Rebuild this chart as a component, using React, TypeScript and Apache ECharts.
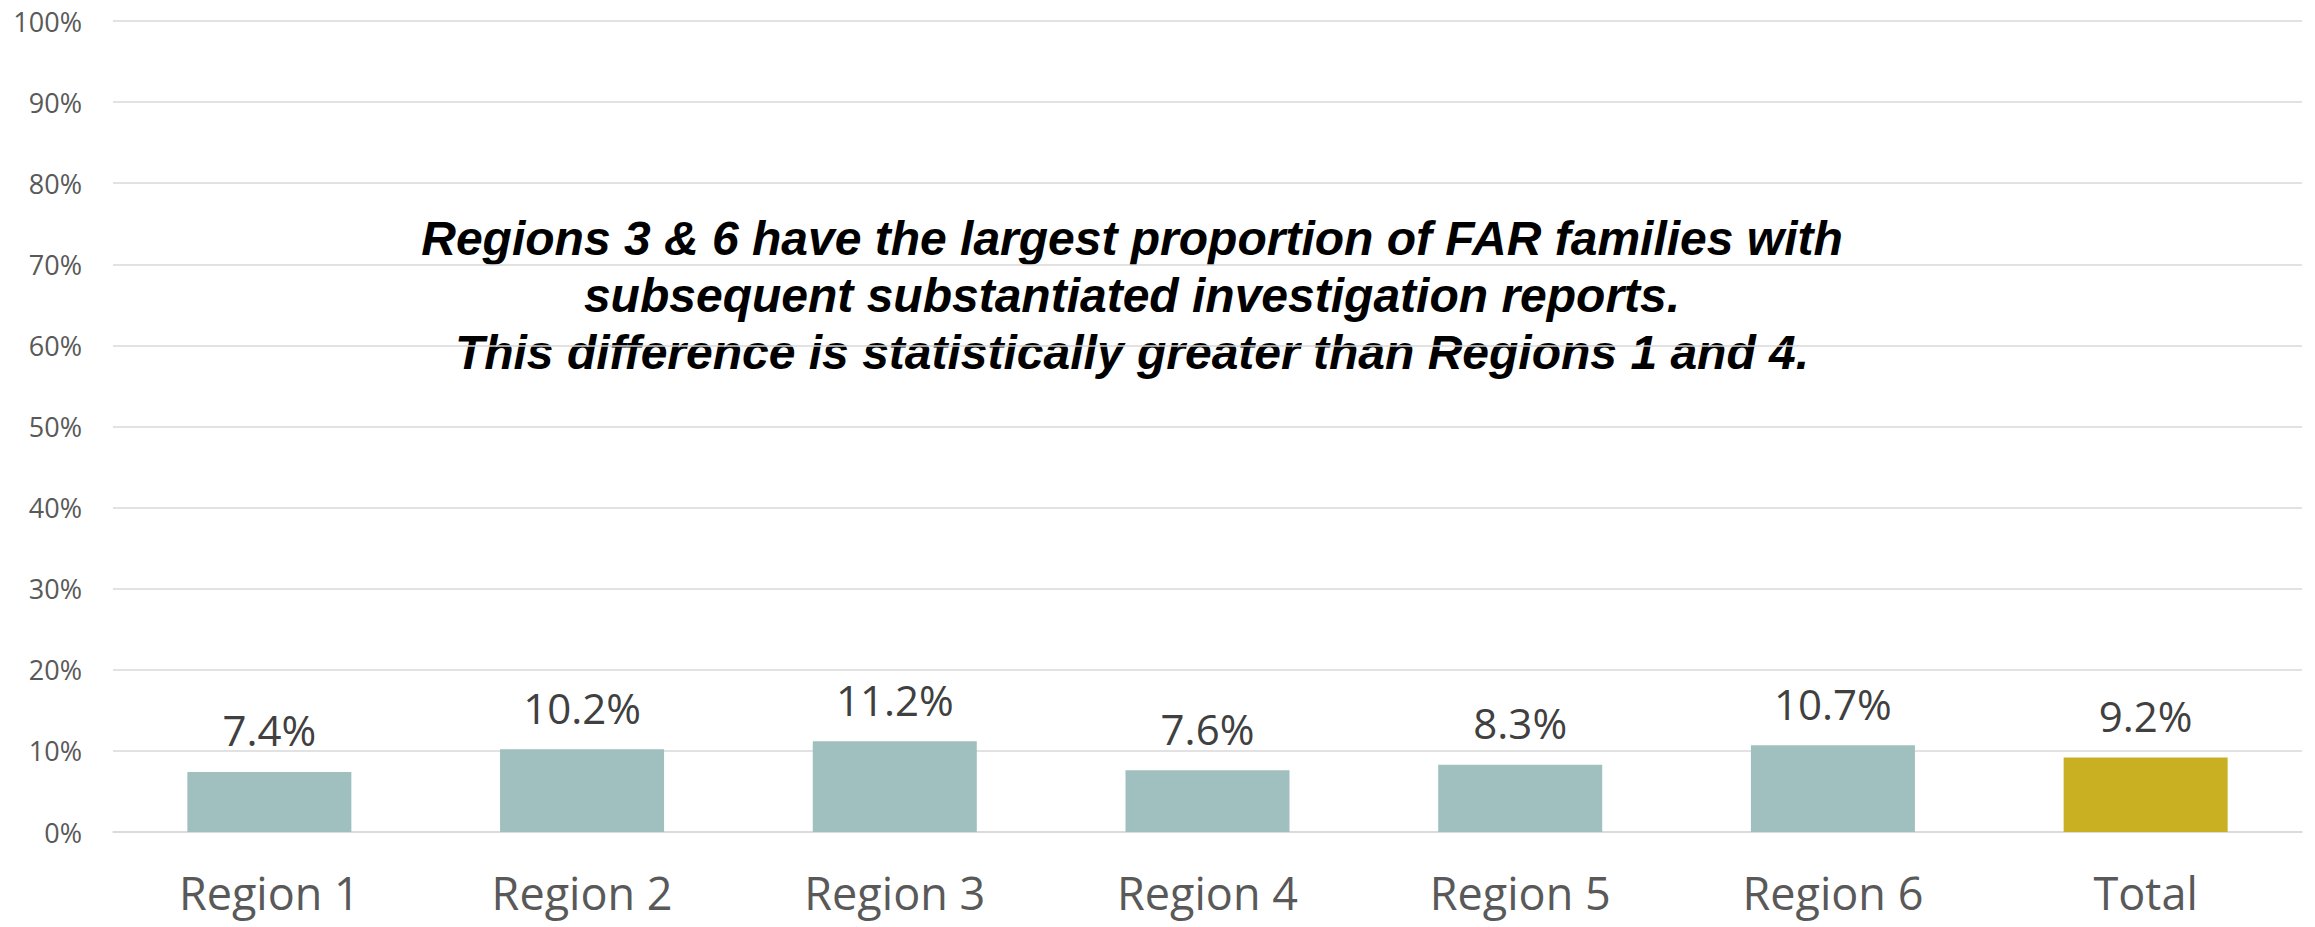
import React, { useEffect, useRef } from "react";
import * as echarts from "echarts";

const categories = ["Region 1", "Region 2", "Region 3", "Region 4", "Region 5", "Region 6", "Total"];
const values = [7.4, 10.2, 11.2, 7.6, 8.3, 10.7, 9.2];
const barColors = ["#A0BFBF", "#A0BFBF", "#A0BFBF", "#A0BFBF", "#A0BFBF", "#A0BFBF", "#C9AF22"];
const annotationLines = [
  "Regions 3 & 6 have the largest proportion of FAR families with",
  "subsequent substantiated investigation reports.",
  "This difference is statistically greater than Regions 1 and 4.",
];

export default function App() {
  const ref = useRef<HTMLDivElement>(null);
  useEffect(() => {
    document.body.style.margin = "0";
    if (!ref.current) return;
    const chart = echarts.init(ref.current, undefined, { renderer: "svg" });
    chart.setOption({
      animation: false,
      backgroundColor: "#ffffff",
      grid: { left: 113, right: 13, top: 21, bottom: 95 },
      xAxis: {
        type: "category",
        data: categories,
        axisTick: { show: false },
        axisLine: { show: true, lineStyle: { color: "#D9D9D9", width: 1.5 } },
        axisLabel: {
          color: "#595959",
          fontFamily: "Open Sans",
          fontSize: 45,
          margin: 38,
        },
      },
      yAxis: {
        type: "value",
        min: 0,
        max: 100,
        interval: 10,
        axisLine: { show: false },
        axisTick: { show: false },
        splitLine: { lineStyle: { color: "#D9D9D9", width: 1.5 } },
        axisLabel: {
          formatter: "{value}%",
          color: "#595959",
          fontFamily: "Open Sans",
          fontSize: 27,
          margin: 31,
        },
      },
      series: [
        {
          type: "bar",
          barWidth: 164,
          data: values.map((v, i) => ({ value: v, itemStyle: { color: barColors[i] } })),
          label: {
            show: true,
            position: "top",
            distance: 21,
            formatter: (p: any) => `${p.value.toFixed(1)}%`,
            color: "#404040",
            fontFamily: "Open Sans",
            fontSize: 42,
          },
        },
      ],
      graphic: [
        {
          type: "text",
          x: 1132,
          y: 210,
          style: {
            text: annotationLines.join("\n"),
            fontFamily: "Liberation Sans",
            fontWeight: "bold",
            fontStyle: "italic",
            fontSize: 48,
            lineHeight: 57,
            fill: "#000000",
            textAlign: "center",
            textVerticalAlign: "top",
          },
        },
      ],
    });
    return () => chart.dispose();
  }, []);
  return <div ref={ref} style={{ width: 2315, height: 927 }} />;
}
